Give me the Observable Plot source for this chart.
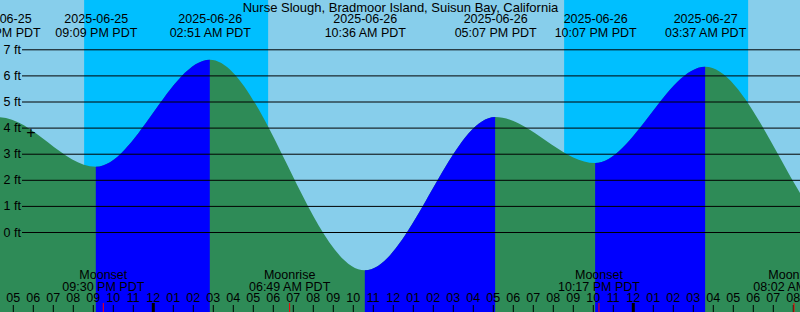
<!DOCTYPE html>
<html>
<head>
<meta charset="utf-8">
<script src="https://cdn.jsdelivr.net/npm/d3@7"></script>
<script src="https://cdn.jsdelivr.net/npm/@observablehq/plot@0.6"></script>
<style>
  html, body { margin: 0; padding: 0; background: #87CEEB; }
  #chart { width: 800px; height: 312px; overflow: hidden; }
  #chart svg { overflow: hidden; }
</style>
</head>
<body>
<div id="chart"></div>
<script>
// ---------- data ----------
const title = "Nurse Slough, Bradmoor Island, Suisun Bay, California";

// tide extremes (PDT); first and last two are just off the visible range
const tideDates   = ["2025-06-25", "2025-06-25", "2025-06-25", "2025-06-26", "2025-06-26", "2025-06-26", "2025-06-26", "2025-06-27", "2025-06-27", "2025-06-27"];
const tideTimes   = ["10:05 AM",   "04:19 PM",   "09:09 PM",   "02:51 AM",   "10:36 AM",   "05:07 PM",   "10:07 PM",   "03:37 AM",   "11:00 AM",   "05:45 PM"];
const tideHeights = [-1.2,         4.4,          2.5,          6.6,          -1.47,        4.41,         2.64,         6.33,         -0.5,         4.7];

// night (sunset -> sunrise)
const nightStartDates = ["2025-06-25", "2025-06-26"];
const nightStartTimes = ["08:34 PM",   "08:34 PM"];
const nightEndDates   = ["2025-06-26", "2025-06-27"];
const nightEndTimes   = ["05:46 AM",   "05:46 AM"];

// moon events
const moonEvents = ["Moonset",    "Moonrise",   "Moonset",    "Moonrise"];
const moonDates  = ["2025-06-25", "2025-06-26", "2025-06-26", "2025-06-27"];
const moonTimes  = ["09:30 PM",   "06:49 AM",   "10:17 PM",   "08:02 AM"];

// current-time marker
const markerDate = "2025-06-25";
const markerTime = "05:53 PM";
const markerHeight = 3.8;

// axis ticks
const feetTicks = [0, 1, 2, 3, 4, 5, 6, 7];
const hourTicks = d3.range(-7, 33);      // hours from 2025-06-26 00:00 PDT
const midnightTicks = [0, 24];

// ---------- helpers ----------
function hoursOf(date, time) {
  const day = +date.slice(8, 10);
  const [hm, ap] = time.split(" ");
  let [hh, mm] = hm.split(":").map(Number);
  if (ap === "PM" && hh !== 12) hh += 12;
  if (ap === "AM" && hh === 12) hh = 0;
  return (day - 26) * 24 + hh + mm / 60;
}
const hourLabel = h => { const v = ((h % 12) + 12) % 12 || 12; return String(v).padStart(2, "0"); };

const tide = tideTimes.map((t, i) => ({
  t: hoursOf(tideDates[i], t), h: tideHeights[i], date: tideDates[i], time: tideTimes[i] + " PDT"
}));
const nights = nightStartTimes.map((t, i) => ({
  start: hoursOf(nightStartDates[i], t), end: hoursOf(nightEndDates[i], nightEndTimes[i])
}));
const moon = moonEvents.map((e, i) => ({
  t: hoursOf(moonDates[i], moonTimes[i]), event: e, time: moonTimes[i] + " PDT"
}));
const marker = [{t: hoursOf(markerDate, markerTime), h: markerHeight}];

const rising = [];
for (let i = 0; i < tide.length - 1; i++) if (tide[i + 1].h > tide[i].h) rising.push([tide[i].t, tide[i + 1].t]);

// ---------- chart ----------
const W = 800, H = 312;
const yMin = -3.065, yMax = 8.889;
const font = "'Liberation Sans', Arial, Helvetica, sans-serif";

const chart = Plot.plot({
  width: W, height: H,
  margin: 0,
  x: {type: "linear", domain: [-7.64, 32.36], axis: null},
  y: {domain: [yMin, yMax], axis: null},
  style: {background: "#87CEEB", fontFamily: font, fontSize: "12.5px", color: "black"},
  marks: [
    Plot.rect(nights, {x1: "start", x2: "end", y1: yMin, y2: yMax, fill: "#00BFFF"}),
    Plot.areaY(tide, {x: "t", y1: yMin, y2: "h", curve: "monotone-x", fill: "#2E8B57"}),
    Plot.areaY(tide, {x: "t", y1: yMin, y2: "h", curve: "monotone-x", fill: "#0000FF", ariaDescription: "rising"}),
    Plot.ruleY(feetTicks, {y: d => d, stroke: "black", strokeWidth: 1, insetLeft: 22}),
    Plot.text(feetTicks, {y: d => d, text: d => `${d} ft`, frameAnchor: "left", textAnchor: "start", dx: 3, lineAnchor: "middle", fill: "black"}),
    Plot.text([title], {text: d => d, frameAnchor: "top", lineAnchor: "bottom", dy: 11, fontSize: 13, fill: "black"}),
    Plot.text(tide, {x: "t", text: "date", frameAnchor: "top", lineAnchor: "bottom", dy: 22.7, fill: "black"}),
    Plot.text(tide, {x: "t", text: "time", frameAnchor: "top", lineAnchor: "bottom", dy: 36.7, fill: "black"}),
    Plot.ruleX(hourTicks, {x: d => d, stroke: "black", strokeWidth: 1, insetTop: 305}),
    Plot.ruleX(midnightTicks, {x: d => d, stroke: "black", strokeWidth: 3, insetTop: 303}),
    Plot.ruleX(moon, {x: "t", stroke: "red", strokeWidth: 1, insetTop: 303}),
    Plot.text(hourTicks, {x: d => d, text: hourLabel, frameAnchor: "bottom", lineAnchor: "bottom", dy: -10.3, fill: "black"}),
    Plot.text(moon, {x: "t", text: "event", frameAnchor: "bottom", lineAnchor: "bottom", dy: -33.7, fill: "black"}),
    Plot.text(moon, {x: "t", text: "time", frameAnchor: "bottom", lineAnchor: "bottom", dy: -22, fill: "black"}),
    Plot.text(marker, {x: "t", y: "h", text: () => "+", fontSize: 16, lineAnchor: "middle", fill: "black"})
  ]
});

// clip the "rising tide" area to the low->high intervals, using Plot's x scale
const xs = chart.scale("x");
const ns = "http://www.w3.org/2000/svg";
const defs = document.createElementNS(ns, "defs");
const cp = document.createElementNS(ns, "clipPath");
cp.setAttribute("id", "rising-clip");
for (const [a, b] of rising) {
  const r = document.createElementNS(ns, "rect");
  const x0 = xs.apply(a), x1 = xs.apply(b);
  r.setAttribute("x", x0);
  r.setAttribute("width", Math.max(0, x1 - x0));
  r.setAttribute("y", 0);
  r.setAttribute("height", H);
  cp.appendChild(r);
}
defs.appendChild(cp);
chart.insertBefore(defs, chart.firstChild);
let risingG = chart.querySelector('g[aria-description="rising"]');
if (!risingG) risingG = chart.querySelectorAll('g[aria-label="area"]')[1];
if (risingG) risingG.setAttribute("clip-path", "url(#rising-clip)");

document.getElementById("chart").appendChild(chart);
</script>
</body>
</html>
